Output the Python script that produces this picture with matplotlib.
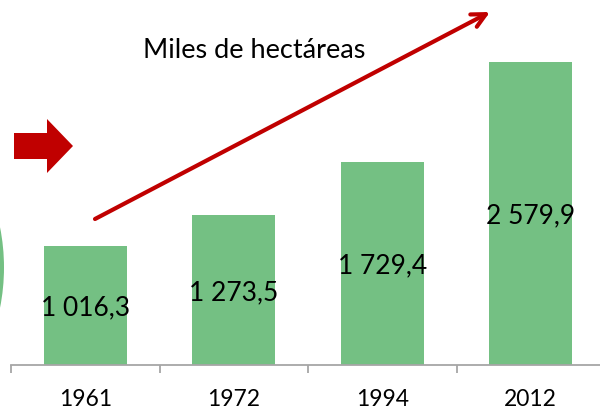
import matplotlib
matplotlib.use('Agg')
import matplotlib.pyplot as plt
from matplotlib.patches import Polygon, Circle
import numpy as np

years = ['1961', '1972', '1994', '2012']
hectareas = [1016.3, 1273.5, 1729.4, 2579.9]
labels = ['1 016,3', '1 273,5', '1 729,4', '2 579,9']
titulo = 'Miles de hectáreas'

W, H = 600, 411
plt.rcParams['font.family'] = ['Lato', 'DejaVu Sans']

fig = plt.figure(figsize=(W / 100, H / 100), dpi=100)
fig.patch.set_facecolor('white')

# axes: left edge at x=11px, baseline at y=365px
ax = fig.add_axes([11 / W, 1 - 365 / H, (W - 11) / W, 365 / H])
ax.patch.set_alpha(0)
x = np.arange(len(years))
ax.bar(x, hectareas, width=0.56, color='#74C083')
ax.set_xlim(-0.5, 3.466)
ax.set_ylim(0, 3106)

for i, (v, lab) in enumerate(zip(hectareas, labels)):
    ax.annotate(lab, xy=(i, v / 2), xytext=(0, -7), textcoords='offset points',
                ha='center', va='baseline', fontsize=19, color='black')

for s in ['top', 'right', 'left']:
    ax.spines[s].set_visible(False)
ax.spines['bottom'].set_color('#A6A6A6')
ax.spines['bottom'].set_linewidth(1.3)
ax.set_yticks([])
ax.set_xticks(x)
ax.set_xticklabels(years, fontsize=16.5)
ax.tick_params(axis='x', which='major', length=0, pad=17)
ax.set_xticks(np.arange(-0.5, 3.5, 1.0), minor=True)
ax.tick_params(axis='x', which='minor', length=6, width=1.3, color='#A6A6A6')

# overlay in pixel coordinates (origin top-left)
ov = fig.add_axes([0, 0, 1, 1])
ov.set_xlim(0, W)
ov.set_ylim(H, 0)
ov.axis('off')
ov.patch.set_alpha(0)

ov.add_patch(Polygon([(14, 133), (47, 133), (47, 119), (73, 146),
                      (47, 173), (47, 159), (14, 159)],
                     closed=True, color='#C00000', lw=0))
ov.add_patch(Circle((-203, 267.5), 207, color='#74C083', lw=0))
ov.annotate('', xy=(490, 12), xytext=(95, 219),
            arrowprops=dict(arrowstyle='->,head_length=1.0,head_width=0.5',
                            color='#C00000', lw=3, shrinkA=0, shrinkB=0))
ov.text(254, 50, titulo, ha='center', va='center', fontsize=19.5, color='black')

fig.savefig('out.png', dpi=100)
